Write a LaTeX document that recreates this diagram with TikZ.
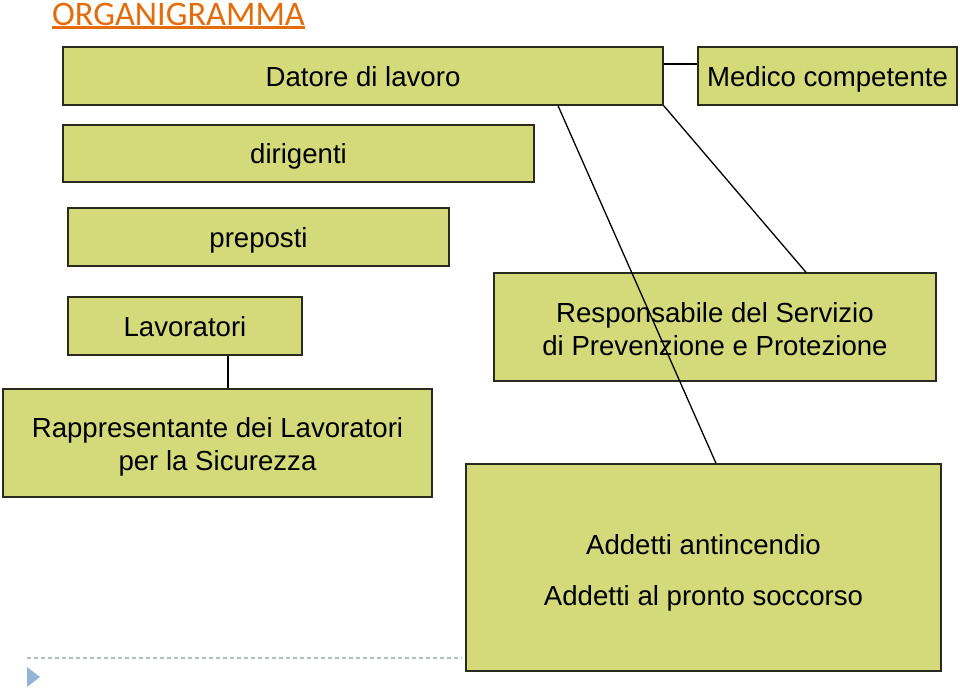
\documentclass[tikz,border=0pt]{standalone}
\usepackage{fontspec}
\setmainfont{Liberation Sans}
\newfontfamily\titlefont{Carlito}
\definecolor{boxfill}{HTML}{D4D97A}
\definecolor{boxline}{HTML}{2A2A20}
\definecolor{titleorange}{HTML}{E46C0A}
\definecolor{dashgray}{HTML}{B4BCC8}
\definecolor{triblue}{HTML}{95B3D7}
\begin{document}
\begin{tikzpicture}[x=1pt,y=-1pt,
  box/.style={draw=boxline, fill=boxfill, line width=1.4pt, inner sep=0pt,
    font=\fontsize{27.6}{33}\selectfont, align=center, text height=23pt, text depth=3pt},
  multibox/.style={draw=boxline, fill=boxfill, line width=1.4pt, inner sep=0pt,
    font=\fontsize{27.6}{33}\selectfont, align=center},
  conn/.style={draw=black, line width=1.3pt}]
\useasboundingbox (0,0) rectangle (960,689);
% title
\node[anchor=west, inner sep=0pt, text=titleorange, font=\titlefont\fontsize{34.4}{40}\selectfont] (title) at (52,14) {ORGANIGRAMMA};
\draw[titleorange, line width=2.2pt] ([yshift=-2pt]title.south west) -- ([yshift=-2pt]title.south east);
% boxes
\node[box, minimum width=600pt, minimum height=58pt] (datore) at (363,76) {Datore di lavoro};
\node[box, minimum width=259pt, minimum height=58pt] (medico) at (827.5,76) {Medico competente};
\node[box, minimum width=471pt, minimum height=57pt] (dirigenti) at (298.5,153.5) {dirigenti};
\node[box, minimum width=381pt, minimum height=58pt] (preposti) at (258.5,237) {preposti};
\node[box, minimum width=234pt, minimum height=58pt] (lav) at (185,326) {Lavoratori};
\node[multibox, minimum width=442pt, minimum height=108pt] (rspp) at (715,327) {\rule{0pt}{24pt}Responsabile del Servizio\\di Prevenzione e Protezione};
\node[multibox, minimum width=429pt, minimum height=108pt] (rls) at (217.5,443) {\rule{0pt}{28pt}Rappresentante dei Lavoratori\\per la Sicurezza};
\node[multibox, minimum width=475pt, minimum height=207pt] (addetti) at (703.5,567.5) {\rule{0pt}{30pt}Addetti antincendio\\[18pt]Addetti al pronto soccorso};
% connectors
\draw[conn] ([yshift=12pt]datore.east) -- ([yshift=12pt]medico.west);
\draw[conn] (datore.south east) -- ([xshift=91pt]rspp.north);
\draw[conn] ([xshift=195pt]datore.south) -- ([xshift=12.5pt]addetti.north);
\draw[conn] ([xshift=43pt]lav.south) -- ([xshift=43pt]lav.south |- rls.north);
% footer decoration
\draw[dashgray, line width=1.2pt, dash pattern=on 4pt off 3pt] (27,658) -- (462,658);
\fill[triblue] (27,667) -- (40,677) -- (27,687) -- cycle;
\end{tikzpicture}
\end{document}
